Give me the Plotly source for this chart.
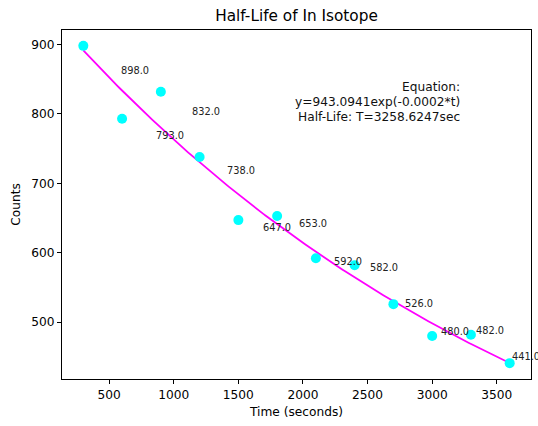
import numpy as np
import plotly.graph_objects as go

# ---- data ----
times = [300, 600, 900, 1200, 1500, 1800, 2100, 2400, 2700, 3000, 3300, 3600]
counts = [898, 793, 832, 738, 647, 653, 592, 582, 526, 480, 482, 441]
x_ticks = [500, 1000, 1500, 2000, 2500, 3000, 3500]
y_ticks = [500, 600, 700, 800, 900]
title = "Half-Life of In Isotope"
eq_lines = ["Equation:", "y=943.0941exp(-0.0002*t)", "Half-Life: T=3258.6247sec"]

t = np.array(times, float)
y = np.array(counts, float)

# exponential fit with offset: y = A*exp(-k t) + C (Gauss-Newton, log-linear start)
slope, icpt = np.polyfit(t, np.log(y), 1)
A, k, C = np.exp(icpt), -slope, 0.0
for _ in range(200):
    e = np.exp(-k * t)
    J = np.column_stack([e, -A * t * e, np.ones_like(t)])
    r = y - (A * e + C)
    d, *_ = np.linalg.lstsq(J, r, rcond=None)
    A += 0.5 * d[0]
    k += 0.5 * d[1]
    C += 0.5 * d[2]
tf = np.linspace(t.min(), t.max(), 200)
yf = A * np.exp(-k * tf) + C

FONT = "DejaVu Sans"
fig = go.Figure()
fig.add_trace(go.Scatter(x=tf, y=yf, mode="lines",
                         line=dict(color="#ff00ff", width=1.8),
                         showlegend=False, hoverinfo="skip"))
fig.add_trace(go.Scatter(x=times, y=counts, mode="markers",
                         marker=dict(color="#00ffff", size=10, line=dict(width=0)),
                         showlegend=False))

# value labels
pad_x = (t.max() - t.min()) * 0.05
pad_y = (y.max() - y.min()) * 0.05
annotations = []
for ti, ci in zip(times, counts):
    lx = 0.917 * ti + 300
    ly = 0.9015 * ci + 53.4
    annotations.append(dict(x=lx, y=ly, xref="x", yref="y", text=f"{float(ci):.1f}",
                            showarrow=False, xanchor="left", yanchor="middle",
                            font=dict(family=FONT, size=9.8, color="#222")))

eq_y = [0.8367, 0.7937, 0.7507]
for txt, yy in zip(eq_lines, eq_y):
    annotations.append(dict(x=0.853, y=yy, xref="paper", yref="paper", text=txt,
                            showarrow=False, xanchor="right", yanchor="middle",
                            font=dict(family=FONT, size=12.2, color="#111")))

fig.update_layout(
    width=538, height=426,
    margin=dict(l=62, r=7, t=30, b=47),
    paper_bgcolor="white", plot_bgcolor="white",
    font=dict(family=FONT, size=12.2, color="black"),
    title=dict(text=title, x=(62 + 531) / 2 / 538, xanchor="center",
               y=1 - 16 / 426, yanchor="middle",
               font=dict(family=FONT, size=15.3, color="black")),
    annotations=annotations,
    xaxis=dict(range=[t.min() - pad_x, t.max() + pad_x], tickvals=x_ticks,
               showgrid=False, zeroline=False, showline=True, linecolor="black",
               linewidth=1, mirror=True, ticks="outside", ticklen=4, tickcolor="black",
               title=dict(text="Time (seconds)", standoff=6,
                          font=dict(family=FONT, size=12.2))),
    yaxis=dict(range=[y.min() - pad_y, y.max() + pad_y], tickvals=y_ticks,
               showgrid=False, zeroline=False, showline=True, linecolor="black",
               linewidth=1, mirror=True, ticks="outside", ticklen=4, tickcolor="black",
               title=dict(text="Counts", standoff=8,
                          font=dict(family=FONT, size=12.2))),
)

fig.write_html("out.html")
